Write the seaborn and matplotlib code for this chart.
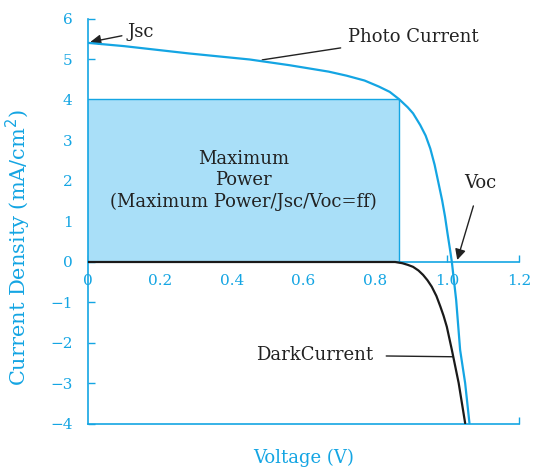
import matplotlib
matplotlib.use("Agg")
import matplotlib.pyplot as plt
import seaborn as sns
import pandas as pd

# ---- data ----
photo_v = [0.0, 0.10, 0.28, 0.45, 0.56, 0.67, 0.72, 0.77, 0.81, 0.84, 0.866, 0.89,
           0.905, 0.925, 0.94, 0.953, 0.965, 0.976, 0.986, 0.994, 1.001, 1.008,
           1.013, 1.025, 1.036, 1.05, 1.062]
photo_j = [5.41, 5.33, 5.15, 5.00, 4.86, 4.70, 4.60, 4.48, 4.33, 4.20, 4.02, 3.82,
           3.67, 3.38, 3.12, 2.80, 2.40, 1.94, 1.52, 1.12, 0.70, 0.30,
           0.0, -0.94, -2.17, -2.99, -3.98]
dark_v = [0.0, 0.855, 0.875, 0.89, 0.905, 0.92, 0.933, 0.945, 0.957, 0.97, 0.981,
          0.99, 0.999, 1.013, 1.032, 1.05]
dark_j = [0.0, 0.0, -0.03, -0.07, -0.12, -0.21, -0.32, -0.45, -0.61, -0.84, -1.10,
          -1.33, -1.60, -2.17, -2.99, -3.98]
vmp = 0.866
jmp = 4.02
x_ticks = [0, 0.2, 0.4, 0.6, 0.8, 1.0, 1.2]
x_labels = ["0", "0.2", "0.4", "0.6", "0.8", "1.0", "1.2"]
y_ticks = [-4, -3, -2, -1, 0, 1, 2, 3, 4, 5, 6]
y_labels = ["\u22124", "\u22123", "\u22122", "\u22121", "0", "1", "2", "3", "4", "5", "6"]

BLUE = "#14A5E3"
FILL = "#A9DFF8"

sns.set_style("ticks")
plt.rcParams["font.family"] = ["DejaVu Serif"]

fig = plt.figure(figsize=(5.42, 4.71), dpi=100)
ax = fig.add_axes([0.1624, 0.0998, 0.7952, 0.8599])

photo = pd.DataFrame({"V": photo_v, "J": photo_j})
dark = pd.DataFrame({"V": dark_v, "J": dark_j})

ax.fill_between([0, vmp], 0, jmp, color=FILL, linewidth=0, zorder=1)
ax.plot([0, vmp, vmp], [jmp, jmp, 0], color=BLUE, lw=1.0, zorder=2)

sns.lineplot(data=photo, x="V", y="J", ax=ax, color=BLUE, lw=1.6,
             estimator=None, sort=False, zorder=4)
sns.lineplot(data=dark, x="V", y="J", ax=ax, color="#1a1a1a", lw=1.6,
             estimator=None, sort=False, zorder=5)

ax.set_xlim(0, 1.2)
ax.set_ylim(-4, 6)

for s in ["top", "right"]:
    ax.spines[s].set_visible(False)
ax.spines["bottom"].set_position(("data", 0))
ax.spines["bottom"].set_color(BLUE)
ax.spines["left"].set_color(BLUE)
ax.spines["bottom"].set_linewidth(1.2)
ax.spines["left"].set_linewidth(1.2)

ax.set_xticks(x_ticks)
ax.set_xticklabels(x_labels)
ax.set_yticks(y_ticks)
ax.set_yticklabels(y_labels)
ax.tick_params(axis="x", direction="in", length=5, width=1, color=BLUE,
               labelcolor=BLUE, labelsize=11, pad=9)
ax.tick_params(axis="y", direction="in", length=5, width=1, color=BLUE,
               labelcolor=BLUE, labelsize=11, pad=11)

sec = ax.secondary_xaxis("bottom")
sec.set_xticks([1.2])
sec.set_xticklabels([""])
sec.tick_params(direction="in", length=5, width=1, color=BLUE)
sec.spines["bottom"].set_color(BLUE)
sec.spines["bottom"].set_linewidth(1.2)

ax.set_xlabel("Voltage (V)", color=BLUE, fontsize=13)
ax.xaxis.set_label_coords(0.5, -0.062)
ax.set_ylabel("Current Density (mA/cm$^2$)", color=BLUE, fontsize=15)
ax.yaxis.set_label_coords(-0.128, 0.435)

txt = dict(color="#222222", fontsize=13)
ax.annotate("Jsc", xy=(0.006, 5.43), xytext=(0.111, 5.68), va="center", ha="left",
            arrowprops=dict(arrowstyle="-|>", color="#222222", lw=1,
                            mutation_scale=16, shrinkA=2, shrinkB=0), **txt)
ax.annotate("Photo Current", xy=(0.485, 4.99), xytext=(0.724, 5.56),
            va="center", ha="left",
            arrowprops=dict(arrowstyle="-", color="#222222", lw=1, shrinkA=3, shrinkB=0),
            **txt)
ax.annotate("Voc", xy=(1.028, 0.05), xytext=(1.092, 1.95), va="center", ha="center",
            arrowprops=dict(arrowstyle="-|>", color="#222222", lw=1,
                            mutation_scale=16, shrinkA=8, shrinkB=0), **txt)
ax.annotate("DarkCurrent", xy=(1.017, -2.34), xytext=(0.468, -2.30),
            va="center", ha="left",
            arrowprops=dict(arrowstyle="-", color="#222222", lw=1, shrinkA=7, shrinkB=0),
            **txt)
ax.text(vmp / 2, jmp / 2, "Maximum\nPower\n(Maximum Power/Jsc/Voc=ff)",
        ha="center", va="center", color="#222222", fontsize=13, linespacing=1.25,
        zorder=6)

fig.savefig("out.png", dpi=100)
